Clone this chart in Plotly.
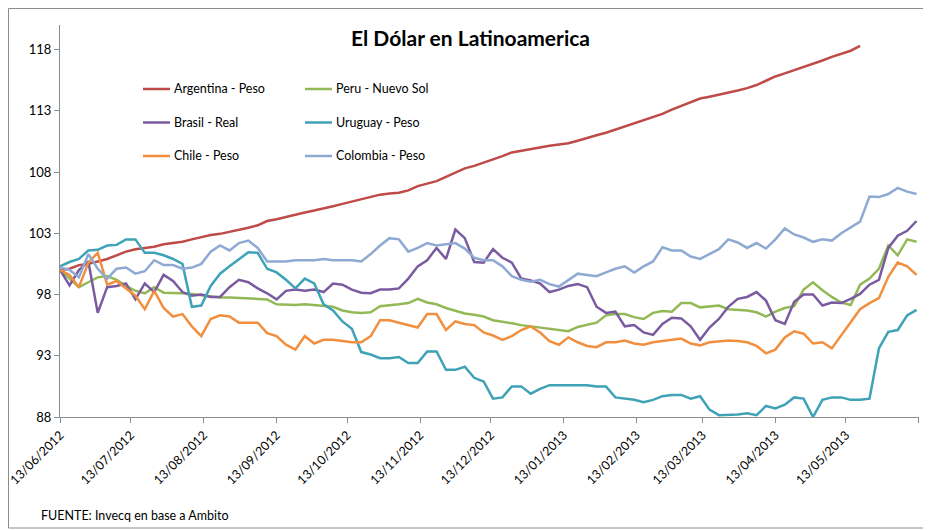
import pandas as pd
import plotly.graph_objects as go

# ---- data (index, 13/06/2012 = 100), sampled every 4 days ----
dates = pd.date_range("2012-06-13", periods=92, freq="4D")

argentina = [100.0, 100.1, 100.4, 100.5, 100.7, 100.9, 101.2, 101.5, 101.7, 101.8,
             101.9, 102.1, 102.2, 102.3, 102.5, 102.7, 102.85, 102.95, 103.1, 103.3,
             103.45, 103.65, 104.0, 104.15, 104.35, 104.55, 104.7, 104.85, 105.0, 105.2,
             105.4, 105.6, 105.8, 106.0, 106.15, 106.25, 106.3, 106.5, 106.85, 107.05,
             107.25, 107.6, 107.95, 108.3, 108.5, 108.75, 109.0, 109.3, 109.6, 109.75,
             109.85, 110.0, 110.15, 110.25, 110.35, 110.55, 110.8, 111.0, 111.2, 111.45,
             111.7, 111.95, 112.2, 112.45, 112.75, 113.1, 113.4, 113.75, 114.0, 114.15,
             114.3, 114.45, 114.65, 114.85, 115.1, 115.45, 115.8, 116.05, 116.3, 116.55,
             116.8, 117.1, 117.4, 117.65, 117.9, 118.3, None, None, None, None,
             None, None]

peru = [100.0, 99.3, 98.6, 99.0, 99.4, 99.5, 99.2, 98.7, 98.3, 98.1,
        98.6, 98.15, 98.15, 98.1, 98.05, 97.95, 97.8, 97.75, 97.75, 97.7,
        97.65, 97.6, 97.6, 97.2, 97.15, 97.15, 97.2, 97.15, 97.1, 97.0,
        96.7, 96.55, 96.5, 96.55, 97.05, 97.1, 97.2, 97.3, 97.65, 97.35,
        97.2, 96.9, 96.7, 96.45, 96.35, 96.2, 95.9, 95.8, 95.65, 95.5,
        95.4, 95.35, 95.25, 95.15, 95.0, 95.35, 95.5, 95.7, 96.3, 96.4,
        96.4, 96.15, 96.0, 96.5, 96.65, 96.6, 97.3, 97.3, 96.95, 97.0,
        97.1, 96.8, 96.75, 96.7, 96.55, 96.2, 96.6, 96.9, 97.05, 98.4,
        99.0, 98.35, 97.8, 97.35, 97.15, 98.8, 99.3, 100.1, 102.0, 101.2,
        102.5, 102.3]

brasil = [100.0, 98.75, 100.0, 100.7, 96.5, 98.6, 98.7, 98.9, 97.6, 98.9,
          98.2, 99.6, 99.1, 98.2, 97.9, 98.0, 97.8, 97.8, 98.6, 99.2,
          99.0, 98.5, 98.1, 97.6, 98.3, 98.4, 98.3, 98.4, 98.2, 98.9,
          98.8, 98.4, 98.15, 98.1, 98.4, 98.4, 98.5, 99.3, 100.3, 100.8,
          101.8, 100.9, 103.3, 102.6, 100.65, 100.6, 101.7, 101.0, 100.6, 99.3,
          99.15, 98.9, 98.2, 98.4, 98.7, 98.85, 98.6, 97.0, 96.5, 96.6,
          95.4, 95.5, 94.9, 94.7, 95.6, 96.1, 96.05, 95.4, 94.3, 95.3,
          96.0, 97.0, 97.65, 97.8, 98.2, 97.5, 95.9, 95.6, 97.4, 98.0,
          98.0, 97.1, 97.35, 97.3, 97.65, 98.05, 98.8, 99.2, 101.8, 102.8,
          103.2, 104.0]

uruguay = [100.3, 100.65, 100.9, 101.6, 101.65, 102.0, 102.05, 102.5, 102.5, 101.4,
           101.4, 101.2, 100.9, 100.5, 97.0, 97.1, 98.7, 99.7, 100.3, 100.9,
           101.45, 101.4, 100.1, 99.8, 99.2, 98.5, 99.3, 98.9, 97.2, 96.7,
           95.8, 95.2, 93.3, 93.1, 92.8, 92.8, 92.9, 92.4, 92.4, 93.35,
           93.35, 91.85, 91.85, 92.1, 91.2, 90.9, 89.5, 89.6, 90.5, 90.5,
           89.9, 90.3, 90.6, 90.6, 90.6, 90.6, 90.6, 90.5, 90.5, 89.6,
           89.5, 89.4, 89.2, 89.4, 89.7, 89.8, 89.8, 89.5, 89.7, 88.6,
           88.15, 88.15, 88.2, 88.3, 88.15, 88.9, 88.7, 89.0, 89.6, 89.5,
           88.0, 89.4, 89.6, 89.6, 89.4, 89.4, 89.5, 93.6, 94.95, 95.1,
           96.3, 96.75]

chile = [100.0, 99.6, 98.6, 100.6, 101.4, 98.8, 99.1, 98.5, 97.9, 96.8,
         98.3, 96.9, 96.2, 96.4, 95.4, 94.6, 96.0, 96.3, 96.2, 95.7,
         95.7, 95.7, 94.85, 94.6, 93.9, 93.5, 94.6, 94.0, 94.3, 94.3,
         94.2, 94.1, 94.1, 94.6, 95.9, 95.9, 95.7, 95.5, 95.3, 96.4,
         96.4, 95.1, 95.8, 95.6, 95.5, 94.9, 94.65, 94.3, 94.6, 95.1,
         95.4, 94.9, 94.2, 93.9, 94.5, 94.1, 93.8, 93.7, 94.1, 94.1,
         94.25, 94.0, 93.9, 94.1, 94.2, 94.3, 94.4, 94.0, 93.85, 94.1,
         94.2, 94.25, 94.2, 94.1, 93.8, 93.2, 93.5, 94.5, 95.0, 94.8,
         94.0, 94.1, 93.6, 94.7, 95.8, 96.8, 97.3, 97.7, 99.45, 100.6,
         100.3, 99.6]

colombia = [100.2, 100.0, 99.4, 101.3, 100.1, 99.3, 100.1, 100.2, 99.7, 99.9,
            100.8, 100.4, 100.4, 100.1, 100.2, 100.5, 101.5, 102.0, 101.6, 102.2,
            102.4, 101.8, 100.7, 100.7, 100.7, 100.8, 100.8, 100.8, 100.9, 100.8,
            100.8, 100.8, 100.7, 101.3, 102.0, 102.6, 102.5, 101.5, 101.8, 102.2,
            102.0, 102.1, 102.2, 101.75, 101.0, 100.8, 100.8, 100.3, 99.5, 99.2,
            99.05, 99.2, 98.85, 98.65, 99.15, 99.7, 99.6, 99.5, 99.8, 100.1,
            100.3, 99.8, 100.3, 100.7, 101.85, 101.6, 101.6, 101.1, 100.9, 101.3,
            101.7, 102.5, 102.25, 101.8, 102.2, 101.75, 102.5, 103.4, 102.9, 102.65,
            102.3, 102.5, 102.4, 103.0, 103.45, 103.95, 106.0, 105.95, 106.2, 106.7,
            106.4, 106.2]

series_names = ["Argentina - Peso", "Peru - Nuevo Sol", "Brasil - Real",
                "Uruguay - Peso", "Chile - Peso", "Colombia - Peso"]
series_values = [argentina, peru, brasil, uruguay, chile, colombia]
series_colors = ["#BE4B48", "#93B956", "#7A5BA0", "#3FA2B6", "#F18F3F", "#8FAAD2"]

tick_dates = pd.date_range("2012-06-01", periods=13, freq="MS") + pd.Timedelta(days=12)
tick_text = [d.strftime("%d/%m/%Y") for d in tick_dates[:-1]] + [""]
y_ticks = [88, 93, 98, 103, 108, 113, 118]

x_range = [tick_dates[0] - pd.Timedelta(hours=1), tick_dates[-1] + pd.Timedelta(hours=1)]

FONT = "Lato"

fig = go.Figure()
for name, vals, col in zip(series_names, series_values, series_colors):
    fig.add_trace(go.Scatter(x=dates, y=vals, mode="lines", name=name,
                             line=dict(color=col, width=2.5), showlegend=False,
                             connectgaps=False))

# page offset of the figure (browser body margin)
OFF = 8
W, H = 931 - OFF, 531 - OFF
L, R, T, B = 60 - OFF, 12, 25 - OFF, 114
pw, ph = W - L - R, H - T - B

def px(xp):  # page x pixel -> paper
    return (xp - OFF - L) / pw

def py(yp):  # page y pixel -> paper
    return (H - B - (yp - OFF)) / ph

shapes = [dict(type="rect", xref="paper", yref="paper",
               x0=px(8.5), x1=px(926), y0=py(528), y1=py(8.5),
               line=dict(color="#8C8C8C", width=1), fillcolor="rgba(0,0,0,0)", layer="below")]
annotations = [
    dict(text="<b>El Dólar en Latinoamerica</b>", xref="paper", yref="paper",
         x=px(470), y=py(37), xanchor="center", yanchor="middle", showarrow=False,
         font=dict(family=FONT, size=21, color="#000000")),
    dict(text="FUENTE: Invecq en base a Ambito", xref="paper", yref="paper",
         x=px(39), y=py(515), xanchor="left", yanchor="middle", showarrow=False,
         font=dict(family=FONT, size=12.5, color="#000000")),
]

legend_cols = [(143, 170, 172), (305, 332, 334)]
legend_rows = [89, 122.5, 156]
for i, (name, col) in enumerate(zip(series_names, series_colors)):
    r, c = divmod(i, 2)
    x0, x1, xt = legend_cols[c]
    yy = legend_rows[r]
    shapes.append(dict(type="line", xref="paper", yref="paper",
                       x0=px(x0), x1=px(x1), y0=py(yy), y1=py(yy),
                       line=dict(color=col, width=2.5)))
    annotations.append(dict(text=name, xref="paper", yref="paper",
                            x=px(xt), y=py(yy), xanchor="left", yanchor="middle",
                            showarrow=False,
                            font=dict(family=FONT, size=12.5, color="#000000")))

fig.update_layout(
    width=W, height=H,
    margin=dict(l=L, r=R, t=T, b=B, autoexpand=False),
    paper_bgcolor="white", plot_bgcolor="white",
    font=dict(family=FONT, size=12.5, color="#000000"),
    shapes=shapes, annotations=annotations,
    xaxis=dict(type="date", range=x_range,
               tickvals=tick_dates, ticktext=tick_text, tickangle=-45,
               ticklabeloverflow="allow",
               showgrid=False, zeroline=False, showline=True,
               linecolor="#8C8C8C", linewidth=1, ticks="outside", ticklen=5,
               tickcolor="#8C8C8C", tickfont=dict(family=FONT, size=12.5)),
    yaxis=dict(range=[88, 120], tickvals=y_ticks, showgrid=False, zeroline=False,
               showline=True, linecolor="#8C8C8C", linewidth=1, ticks="outside",
               ticklen=5, tickcolor="#8C8C8C", tickfont=dict(family=FONT, size=13)),
)

fig.write_html("out.html")
